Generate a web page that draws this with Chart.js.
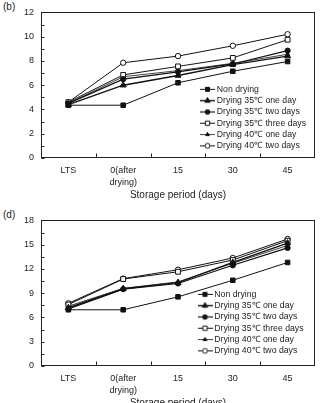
<!DOCTYPE html>
<html>
<head>
<meta charset="utf-8">
<script src="https://cdn.jsdelivr.net/npm/chart.js@4.4.0/dist/chart.umd.min.js"></script>
<style>
body { margin: 0; width: 322px; height: 403px; overflow: hidden; background: #fff; position: relative; font-family: "Liberation Sans", Arial, sans-serif; }
canvas { position: absolute; left: 0; }
#c1 { top: 0; }
#c2 { top: 208px; }
.tag { position: absolute; left: 3px; font-size: 10px; color: #222; }
</style>
</head>
<body>
<div class="tag" style="top:1px">(b)</div>
<canvas id="c1" width="322" height="201"></canvas>
<div class="tag" style="top:209px">(d)</div>
<canvas id="c2" width="322" height="201"></canvas>
<script>
    /* Data */

var categories = ['LTS', ['0(after', 'drying)'], '15', '30', '45'];
var seriesNames = ['Non drying', 'Drying 35\u2103 one day', 'Drying 35\u2103 two days',
                   'Drying 35\u2103 three days', 'Drying 40\u2103 one day', 'Drying 40\u2103 two days'];

// panel (b)
var b_non    = [4.35, 4.35, 6.2, 7.15, 7.95];
var b_35one  = [4.4, 6.0, 6.8, 7.7, 8.4];
var b_35two  = [4.5, 6.5, 7.1, 7.75, 8.85];
var b_35thr  = [4.6, 6.85, 7.55, 8.25, 9.75];
var b_40one  = [4.5, 6.7, 7.2, 7.8, 8.55];
var b_40two  = [4.6, 7.85, 8.4, 9.25, 10.2];
var bTicks = [0, 2, 4, 6, 8, 10, 12];

// panel (d)
var d_non    = [6.95, 6.95, 8.55, 10.6, 12.8];
var d_35one  = [7.2, 9.55, 10.3, 12.8, 15.2];
var d_35two  = [7.05, 9.5, 10.2, 12.45, 14.6];
var d_35thr  = [7.6, 10.75, 11.65, 13.1, 15.5];
var d_40one  = [7.4, 9.6, 10.4, 12.7, 14.9];
var d_40two  = [7.75, 10.8, 11.9, 13.35, 15.7];
var dTicks = [0, 3, 6, 9, 12, 15, 18];

    /* Marker styles per series */

var INK = '#111';
var marks = [
    { style: 'rect',     fill: INK,    r: 3.2, lw: 1 },
    { style: 'triangle', fill: INK,    r: 3.5, lw: 1.4 },
    { style: 'circle',   fill: INK,    r: 2.6, lw: 1.2 },
    { style: 'rect',     fill: '#fff', r: 3.4, lw: 1 },
    { style: 'triangle', fill: INK,    r: 2.4, lw: 0.8 },
    { style: 'circle',   fill: '#fff', r: 2.7, lw: 1 }
];

Chart.defaults.font.family = '"Liberation Sans", Arial, sans-serif';
Chart.defaults.color = '#222';

// little "-o-" pictures for the legend
function makeIcon(m) {
    var c = document.createElement('canvas');
    c.width = 15; c.height = 9;
    var g = c.getContext('2d');
    g.strokeStyle = INK;
    g.lineWidth = m.lw;
    g.beginPath(); g.moveTo(0, 4.5); g.lineTo(15, 4.5); g.stroke();
    g.fillStyle = m.fill;
    g.lineWidth = 1;
    Chart.helpers.drawPoint(g, { pointStyle: m.style, radius: m.r * 0.9, borderWidth: 1, rotation: 0 }, 7.5, 4.5);
    return c;
}
var icons = marks.map(makeIcon);

// box round the plot, inward ticks, legend moved into the plot
var framePlugin = {
    id: 'frame',
    afterLayout: function(chart, args, opts) {
        var lg = chart.legend;
        if (!lg) return;
        var pad = lg.options.labels.padding;
        lg.left = opts.legendX - pad;
        lg.right = lg.left + 140;
        lg.top = opts.legendY - pad;
        lg.bottom = lg.top + 200;
    },
    afterDatasetsDraw: function(chart, args, opts) {
        var a = chart.chartArea, ctx = chart.ctx;
        var xs = chart.scales.x, ys = chart.scales.y;
        var L = Math.round(a.left) + 0.5, R = Math.round(a.right) - 0.5;
        var T = Math.round(a.top) + 0.5, B = Math.round(a.bottom) - 0.5;
        ctx.save();
        ctx.strokeStyle = '#222';
        ctx.lineWidth = 1;
        ctx.strokeRect(L, T, R - L, B - T);
        ctx.beginPath();
        for (var v = ys.min; v <= ys.max; v += opts.step / 2) {
            var py = Math.round(ys.getPixelForValue(v)) + 0.5;
            ctx.moveTo(L, py); ctx.lineTo(L + 3, py);
        }
        for (var i = 0; i < categories.length - 1; i++) {
            var px = Math.round((xs.getPixelForValue(i) + xs.getPixelForValue(i + 1)) / 2) + 0.5;
            ctx.moveTo(px, B); ctx.lineTo(px, B - 4);
        }
        ctx.stroke();
        ctx.restore();
    }
};

function makeChart(id, series, ticks, legendX, legendY) {
    var step = ticks[1] - ticks[0];
    return new Chart(document.getElementById(id), {
        type: 'line',
        data: {
            labels: categories,
            datasets: series.map(function(vals, i) {
                return {
                    label: seriesNames[i],
                    data: vals,
                    borderColor: INK,
                    borderWidth: marks[i].lw,
                    pointStyle: marks[i].style,
                    pointRadius: marks[i].r,
                    pointBackgroundColor: marks[i].fill,
                    pointBorderColor: INK,
                    pointBorderWidth: 1,
                    tension: 0,
                    fill: false
                };
            })
        },
        options: {
            responsive: false,
            animation: false,
            devicePixelRatio: 1,
            layout: { padding: { top: 7, right: 7, left: 0, bottom: 0 } },
            scales: {
                x: {
                    offset: true,
                    grid: { display: false, drawTicks: false },
                    border: { display: false },
                    ticks: { font: { size: 9, lineHeight: 1.3 }, padding: 7, maxRotation: 0, autoSkip: false },
                    title: { display: true, text: 'Storage period (days)', font: { size: 10 }, padding: 0 },
                    afterFit: function(s) { s.height = 43; }
                },
                y: {
                    min: ticks[0],
                    max: ticks[ticks.length - 1],
                    grid: { display: false, drawTicks: false },
                    border: { display: false },
                    ticks: { stepSize: step, font: { size: 9 }, padding: 7 },
                    afterFit: function(s) { s.width = 41; }
                }
            },
            plugins: {
                frame: { step: step, legendX: legendX, legendY: legendY },
                tooltip: { enabled: false },
                legend: {
                    position: 'chartArea',
                    align: 'start',
                    labels: {
                        usePointStyle: true,
                        pointStyleWidth: 10,
                        padding: 2.6,
                        color: '#222',
                        font: { size: 8.7 },
                        generateLabels: function(chart) {
                            var items = Chart.defaults.plugins.legend.labels.generateLabels(chart);
                            items.forEach(function(it, i) { it.pointStyle = icons[i]; });
                            return items;
                        }
                    }
                }
            }
        },
        plugins: [framePlugin]
    });
}

makeChart('c1', [b_non, b_35one, b_35two, b_35thr, b_40one, b_40two], bTicks, 202.5, 85);
makeChart('c2', [d_non, d_35one, d_35two, d_35thr, d_40one, d_40two], dTicks, 200, 82);
</script>
</body>
</html>
